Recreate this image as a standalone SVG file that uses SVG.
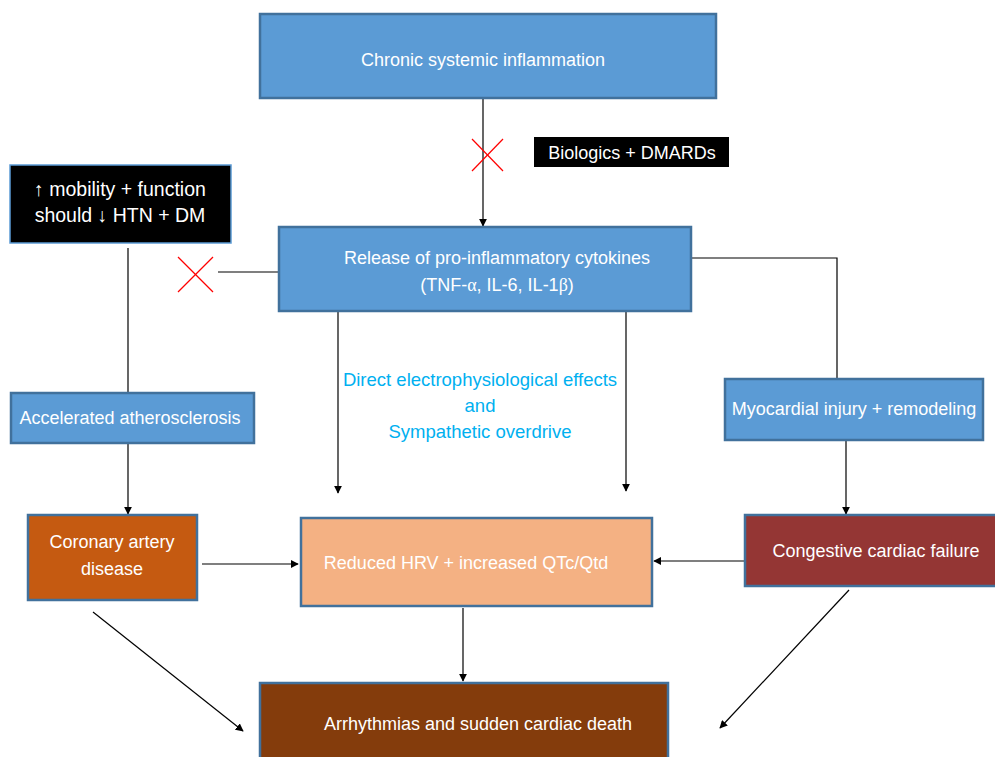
<svg xmlns="http://www.w3.org/2000/svg" width="995" height="757" viewBox="0 0 995 757">
<defs>
<marker id="ah" viewBox="0 0 10 10" refX="9" refY="5" markerWidth="8" markerHeight="8" markerUnits="userSpaceOnUse" orient="auto">
<path d="M0,0 L10,5 L0,10 z" fill="#000"/>
</marker>
<style>
.box{stroke:#41719C;stroke-width:2.5}
.blue{fill:#5B9BD5}
.t{font-family:"Liberation Sans",Arial,sans-serif;font-size:18px;fill:#fff;text-anchor:middle}
.t19{font-size:19.5px}
.bt{font-family:"Liberation Sans",Arial,sans-serif;font-size:18.5px;fill:#00B0F0;text-anchor:middle}
.ln{stroke:#000;stroke-width:1.2;fill:none}
.arr{stroke:#000;stroke-width:1.2;fill:none;marker-end:url(#ah)}
.x{stroke:#FF0000;stroke-width:1.2}
</style>
</defs>
<rect width="995" height="757" fill="#fff"/>
<g id="connectors">
<line class="arr" x1="483" y1="98" x2="483" y2="226"/>
<line class="ln" x1="218" y1="272" x2="278" y2="272"/>
<line class="ln" x1="128" y1="248" x2="128" y2="392"/>
<polyline class="ln" points="692,258 837,258 837,380"/>
<line class="arr" x1="338" y1="312" x2="338" y2="493"/>
<line class="arr" x1="626" y1="312" x2="626" y2="491"/>
<line class="arr" x1="128" y1="444" x2="128" y2="514"/>
<line class="arr" x1="846" y1="441" x2="846" y2="514"/>
<line class="arr" x1="202" y1="564" x2="298" y2="564"/>
<line class="arr" x1="744" y1="561" x2="654" y2="561"/>
<line class="arr" x1="463" y1="608" x2="463" y2="681"/>
<line class="arr" x1="93" y1="612" x2="243" y2="731"/>
<line class="arr" x1="849" y1="590" x2="720" y2="728"/>
<line class="x" x1="472" y1="139" x2="503" y2="171"/>
<line class="x" x1="503" y1="139" x2="472" y2="171"/>
<line class="x" x1="178" y1="257" x2="213" y2="292"/>
<line class="x" x1="213" y1="257" x2="178" y2="292"/>
</g>
<g id="n-chronic">
<rect class="box blue" x="260" y="14" width="456" height="84"/>
<text class="t" x="483" y="66">Chronic systemic inflammation</text>
</g>
<g id="n-biologics">
<rect x="534" y="137" width="195" height="30" fill="#000"/>
<text class="t" x="632" y="159">Biologics + DMARDs</text>
</g>
<g id="n-mobility">
<rect x="10" y="165" width="221" height="78" fill="#000" stroke="#5B9BD5" stroke-width="1.5"/>
<text class="t t19" x="120" y="196">↑ mobility + function</text>
<text class="t t19" x="120" y="222">should ↓ HTN + DM</text>
</g>
<g id="n-cytokines">
<rect class="box blue" x="279" y="227" width="412" height="84"/>
<text class="t" x="497" y="264">Release of pro-inflammatory cytokines</text>
<text class="t" x="497" y="291">(TNF-<tspan font-family="Liberation Serif,serif">α</tspan>, IL-6, IL-1<tspan font-family="Liberation Serif,serif">β</tspan>)</text>
</g>
<g id="n-effects">
<text class="bt" x="480" y="386">Direct electrophysiological effects</text>
<text class="bt" x="480" y="412">and</text>
<text class="bt" x="480" y="438">Sympathetic overdrive</text>
</g>
<g id="n-athero">
<rect class="box blue" x="11" y="393" width="243" height="50"/>
<text class="t" x="130" y="424">Accelerated atherosclerosis</text>
</g>
<g id="n-myocardial">
<rect class="box blue" x="725" y="379" width="258" height="61"/>
<text class="t" x="854" y="415">Myocardial injury + remodeling</text>
</g>
<g id="n-cad">
<rect class="box" x="28" y="515" width="169" height="85" fill="#C55A11"/>
<text class="t" x="112" y="548">Coronary artery</text>
<text class="t" x="112" y="575">disease</text>
</g>
<g id="n-hrv">
<rect class="box" x="301" y="518" width="351" height="88" fill="#F4B183"/>
<text class="t" x="466" y="569">Reduced HRV + increased QTc/Qtd</text>
</g>
<g id="n-ccf">
<rect class="box" x="745" y="515" width="252" height="71" fill="#943634"/>
<text class="t" x="876" y="557">Congestive cardiac failure</text>
</g>
<g id="n-death">
<rect class="box" x="260" y="683" width="408" height="80" fill="#843C0C"/>
<text class="t" x="478" y="730">Arrhythmias and sudden cardiac death</text>
</g>
</svg>
